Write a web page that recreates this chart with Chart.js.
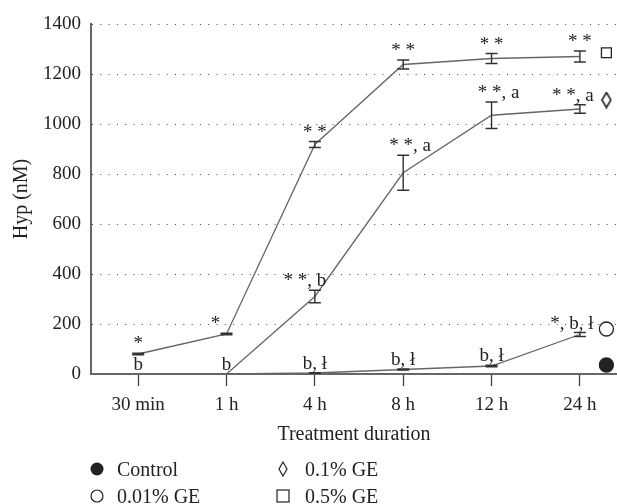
<!DOCTYPE html>
<html>
<head>
<meta charset="utf-8">
<script src="https://cdn.jsdelivr.net/npm/chart.js@4.4.1/dist/chart.umd.min.js"></script>
<style>
    body { margin: 0; background: #fff; }
    #wrap { position: relative; width: 617px; height: 504px; }
    .legend-item {
        position: absolute;
        display: flex;
        align-items: center;
        height: 24px;
        font: 20px "Liberation Serif", serif;
        color: #222;
        white-space: nowrap;
    }
    .legend-item svg { margin-right: 13px; }
</style>
</head>
<body>
<div id="wrap">
    <canvas id="hypChart" width="617" height="504"></canvas>
    <div class="legend-item" style="left:90px; top:457px;">
        <svg width="14" height="14"><circle cx="7" cy="7" r="6.5" fill="#222"/></svg>Control
    </div>
    <div class="legend-item" style="left:90px; top:484px;">
        <svg width="14" height="14"><circle cx="7" cy="7" r="6" fill="#fff" stroke="#222" stroke-width="1.2"/></svg>0.01% GE
    </div>
    <div class="legend-item" style="left:276px; top:457px;">
        <svg width="14" height="16" style="margin-right:15px"><polygon points="7,1 11,8 7,15 3,8" fill="none" stroke="#222" stroke-width="1.2"/></svg>0.1% GE
    </div>
    <div class="legend-item" style="left:276px; top:484px;">
        <svg width="14" height="14" style="margin-right:15px"><rect x="1" y="1" width="12" height="12" fill="none" stroke="#222" stroke-width="1.2"/></svg>0.5% GE
    </div>
</div>
<script>
// Data
const timeLabels = ['30 min', '1 h', '4 h', '8 h', '12 h', '24 h'];

const control = [0, 0, 0, 0, 0, 0];
const ge001 = [0, 0, 4, 18, 32, 158];
const ge01 = [0, 0, 310, 805, 1035, 1060];
const ge05 = [80, 160, 918, 1238, 1262, 1270];

const controlErr = [0, 0, 0, 0, 0, 0];
const ge001Err = [0, 0, 1, 2, 3, 8];
const ge01Err = [0, 0, 25, 70, 53, 17];
const ge05Err = [3, 3, 12, 18, 20, 22];

const ge001Notes = ['', '', 'b, ł', 'b, ł', 'b, ł', '*, b, ł'];
const ge01Notes = ['b', 'b', '* *, b', '* *, a', '* *, a', '* *, a'];
const ge05Notes = ['*', '*', '* *', '* *', '* *', '* *'];

// symbols at the end of each curve
const markerX = 5.3;
const markerY = { control: 36, ge001: 180, ge01: 1096, ge05: 1285 };

const serif = '"Liberation Serif", "Times New Roman", serif';
const lineColor = '#666';
const inkColor = '#222';

function toPoints(values) {
    return values.map((v, i) => ({ x: i, y: v }));
}

function lineSet(label, values, errors, notes) {
    return {
        type: 'line',
        label: label,
        data: toPoints(values),
        errors: errors,
        notes: notes,
        borderColor: lineColor,
        borderWidth: 1.3,
        pointRadius: 0,
        tension: 0,
        fill: false
    };
}

// narrow diamond like the one in the figure
const diamond = document.createElement('canvas');
diamond.width = 12;
diamond.height = 17;
(function () {
    const c = diamond.getContext('2d');
    c.strokeStyle = '#111';
    c.lineWidth = 1.5;
    c.beginPath();
    c.moveTo(6, 1);
    c.lineTo(10.5, 8.5);
    c.lineTo(6, 16);
    c.lineTo(1.5, 8.5);
    c.closePath();
    c.stroke();
})();

function markerSet(y, style, fillColor) {
    return {
        type: 'scatter',
        label: 'marker',
        data: [{ x: markerX, y: y }],
        pointStyle: style,
        pointRadius: 7,
        borderColor: inkColor,
        borderWidth: 1.3,
        backgroundColor: fillColor
    };
}

const errorBars = {
    id: 'errorBars',
    afterDatasetsDraw(chart) {
        const ctx = chart.ctx;
        const yScale = chart.scales.y;
        ctx.save();
        ctx.strokeStyle = '#333';
        ctx.lineWidth = 1.4;
        chart.data.datasets.forEach((ds, di) => {
            if (!ds.errors) return;
            const meta = chart.getDatasetMeta(di);
            ds.data.forEach((p, i) => {
                const e = ds.errors[i];
                if (!e) return;
                const x = meta.data[i].x;
                const top = yScale.getPixelForValue(p.y + e);
                const bot = yScale.getPixelForValue(p.y - e);
                ctx.beginPath();
                ctx.moveTo(x, top); ctx.lineTo(x, bot);
                ctx.moveTo(x - 6, top); ctx.lineTo(x + 6, top);
                ctx.moveTo(x - 6, bot); ctx.lineTo(x + 6, bot);
                ctx.stroke();
            });
        });
        ctx.restore();
    }
};

const noteLabels = {
    id: 'noteLabels',
    afterDatasetsDraw(chart, args, opts) {
        const ctx = chart.ctx;
        const yScale = chart.scales.y;
        ctx.save();
        ctx.fillStyle = inkColor;
        ctx.font = '19px ' + serif;
        ctx.textAlign = 'center';
        ctx.textBaseline = 'alphabetic';
        chart.data.datasets.forEach((ds, di) => {
            if (!ds.notes) return;
            const meta = chart.getDatasetMeta(di);
            const shift = opts.shift[ds.label] || [];
            ds.data.forEach((p, i) => {
                const txt = ds.notes[i];
                if (!txt) return;
                const x = meta.data[i].x + (shift[i] || 0);
                const y = yScale.getPixelForValue(p.y + (ds.errors[i] || 0)) - opts.gap;
                ctx.fillText(txt, x, y);
            });
        });
        ctx.restore();
    }
};

const ctx = document.getElementById('hypChart').getContext('2d');
const chart = new Chart(ctx, {
    data: {
        datasets: [
            lineSet('Control', control, controlErr, null),
            lineSet('0.01% GE', ge001, ge001Err, ge001Notes),
            lineSet('0.1% GE', ge01, ge01Err, ge01Notes),
            lineSet('0.5% GE', ge05, ge05Err, ge05Notes),
            markerSet(markerY.control, 'circle', inkColor),
            markerSet(markerY.ge001, 'circle', '#fff'),
            markerSet(markerY.ge01, diamond, '#fff'),
            markerSet(markerY.ge05, 'rect', 'rgba(0,0,0,0)')
        ]
    },
    options: {
        responsive: false,
        animation: false,
        layout: {
            autoPadding: false,
            padding: { top: 24, right: 0, left: 0, bottom: 57 }
        },
        scales: {
            x: {
                type: 'linear',
                min: -0.534,
                max: 5.42,
                afterBuildTicks: s => { s.ticks = timeLabels.map((t, i) => ({ value: i })); },
                afterFit: s => { s.height = 73; },
                ticks: {
                    callback: v => timeLabels[v],
                    color: inkColor,
                    padding: 8,
                    maxRotation: 0,
                    font: { family: serif, size: 19 }
                },
                grid: {
                    drawOnChartArea: false,
                    drawTicks: true,
                    tickLength: 12,
                    tickColor: '#444',
                    tickWidth: 1.3
                },
                border: { display: true, color: lineColor, width: 2 },
                title: {
                    display: true,
                    text: 'Treatment duration',
                    color: inkColor,
                    padding: 0,
                    font: { family: serif, size: 20, lineHeight: 1.2 }
                }
            },
            y: {
                min: 0,
                max: 1400,
                afterFit: s => { s.width = 91; },
                ticks: {
                    stepSize: 200,
                    callback: v => String(v),
                    color: inkColor,
                    padding: 10,
                    font: { family: serif, size: 19 }
                },
                grid: {
                    drawTicks: false,
                    color: '#444',
                    lineWidth: 1
                },
                border: { display: true, color: lineColor, width: 2, dash: [1, 7.3] },
                title: {
                    display: true,
                    text: 'Hyp (nM)',
                    color: inkColor,
                    padding: { top: 10, bottom: 0 },
                    font: { family: serif, size: 20, lineHeight: 1.2 }
                }
            }
        },
        plugins: {
            legend: { display: false },
            tooltip: { enabled: false },
            noteLabels: {
                gap: 4,
                shift: {
                    '0.01% GE': [0, 0, 0, 0, 0, -8],
                    '0.1% GE': [0, 0, -10, 7, 7, -7],
                    '0.5% GE': [0, -11, 0, 0, 0, 0]
                }
            }
        }
    },
    plugins: [errorBars, noteLabels]
});
</script>
</body>
</html>
